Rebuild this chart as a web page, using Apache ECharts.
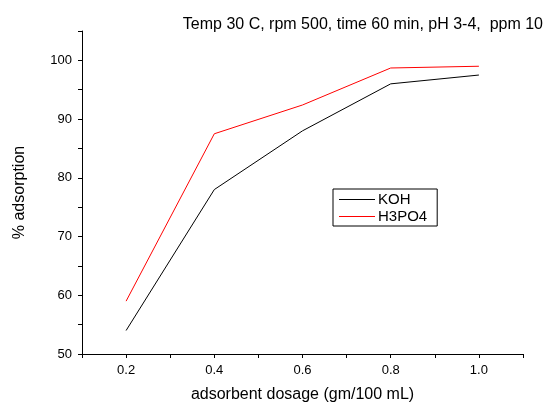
<!DOCTYPE html>
<html>
<head>
<meta charset="utf-8">
<script src="https://cdn.jsdelivr.net/npm/echarts@6/dist/echarts.min.js"></script>
<style>
html, body { margin: 0; padding: 0; background: #fff; }
#chart { width: 550px; height: 403px; }
</style>
</head>
<body>
<div id="chart"></div>
<script>
// 吸附数据
var dosage = [0.2, 0.4, 0.6, 0.8, 1.0];
var kohValues = [54, 78, 88, 96, 97.5];
var h3po4Values = [59, 87.5, 92.4, 98.7, 99];
var seriesNames = ['KOH', 'H3PO4'];

function pairs(xs, ys) {
	return xs.map(function(x, i) {
		return [x, ys[i]];
	});
}

var chart = echarts.init(document.getElementById('chart'));
var font = 'Liberation Sans, Arial, sans-serif';
var option = {
	animation: false,
	title: {
		text: 'Temp 30 C, rpm 500, time 60 min, pH 3-4,  ppm 10',
		right: 2,
		top: 12,
		textStyle: {
			fontFamily: font,
			fontSize: 16,
			fontWeight: 'normal',
			color: '#000'
		}
	},
	legend: {
		orient: 'vertical',
		left: 333,
		top: 189,
		borderColor: '#000',
		borderWidth: 1,
		borderRadius: 0,
		padding: [3, 10, 2, 6],
		itemGap: 2,
		itemWidth: 36,
		itemHeight: 1,
		icon: 'rect',
		textStyle: {
			fontFamily: font,
			fontSize: 15,
			color: '#000',
			padding: [0, 0, 0, -2]
		},
		data: seriesNames
	},
	grid: {
		left: 82,
		top: 31,
		right: 27,
		bottom: 49,
		outerBoundsMode: 'none'
	},
	xAxis: {
		type: 'value',
		min: 0.1,
		max: 1.1,
		interval: 0.1,
		name: 'adsorbent dosage (gm/100 mL)',
		nameLocation: 'middle',
		nameGap: 33,
		nameTextStyle: { fontFamily: font, fontSize: 16, color: '#000' },
		axisLine: { lineStyle: { color: '#000', width: 1 } },
		axisTick: { length: 4, lineStyle: { color: '#000' } },
		splitLine: { show: false },
		axisLabel: {
			fontFamily: font,
			fontSize: 13,
			color: '#000',
			margin: 10,
			formatter: function(v) {
				var k = Math.round(v * 10);
				return (k % 2 === 0 && k >= 2 && k <= 10) ? (k / 10).toFixed(1) : '';
			}
		}
	},
	yAxis: {
		type: 'value',
		min: 50,
		max: 105,
		interval: 5,
		name: '% adsorption',
		nameLocation: 'middle',
		nameGap: 54,
		nameTextStyle: { fontFamily: font, fontSize: 16, color: '#000' },
		axisLine: { show: true, lineStyle: { color: '#000', width: 1 } },
		axisTick: { show: true, length: 4, lineStyle: { color: '#000' } },
		splitLine: { show: false },
		axisLabel: {
			fontFamily: font,
			fontSize: 13,
			color: '#000',
			margin: 10,
			formatter: function(v) {
				return (v % 10 === 0 && v <= 100) ? String(v) : '';
			}
		}
	},
	series: [{
		name: seriesNames[0],
		type: 'line',
		symbol: 'none',
		data: pairs(dosage, kohValues),
		lineStyle: { color: '#000', width: 1 },
		itemStyle: { color: '#000' }
	}, {
		name: seriesNames[1],
		type: 'line',
		symbol: 'none',
		data: pairs(dosage, h3po4Values),
		lineStyle: { color: '#ff0000', width: 1 },
		itemStyle: { color: '#ff0000' }
	}]
};
chart.setOption(option);
</script>
</body>
</html>
